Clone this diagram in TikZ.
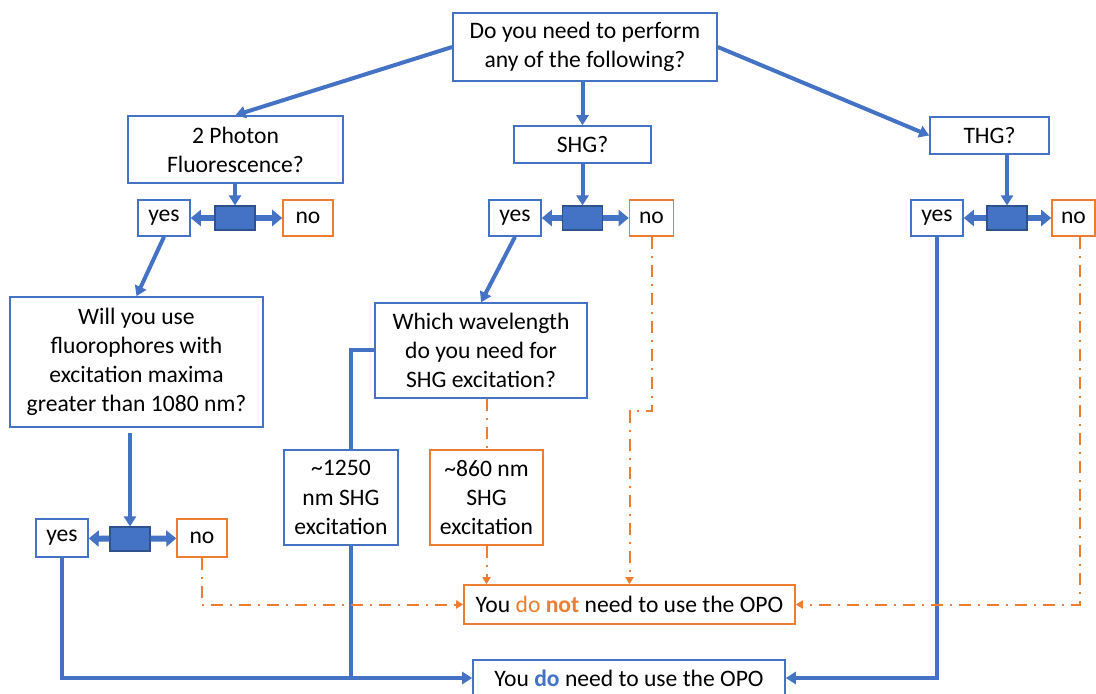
\documentclass[tikz,border=0pt]{standalone}
\usepackage{fontspec}
\setmainfont{Carlito}
\usepackage{tikz}
\usetikzlibrary{arrows.meta}
\usepackage{xcolor}
\definecolor{oblue}{HTML}{4472C4}
\definecolor{dblue}{HTML}{2F528F}
\definecolor{oorange}{HTML}{ED7D31}

\begin{document}
\begin{tikzpicture}[x=0.5pt,y=-0.5pt,font=\fontsize{11.8}{14.6}\selectfont]
        \tikzstyle{blue box}=[draw=oblue,line width=0.8pt,fill=white,inner sep=0,align=center]
        \tikzstyle{orange box}=[draw=oorange,line width=0.8pt,fill=white,inner sep=0,align=center]
        \tikzstyle{switch node}=[draw=dblue,fill=oblue,line width=0.6pt,minimum width=20pt,minimum height=12pt,inner sep=0]
        \tikzstyle{plain line}=[oblue,line width=2pt]
        \tikzstyle{blue line}=[plain line,-{Triangle[length=5pt,width=6pt]}]
        \tikzstyle{switch arrow}=[oblue,line width=3pt,-{Triangle[length=5pt,width=8pt]}]
        \tikzstyle{orange dash}=[oorange,line width=1pt,dash pattern=on 6pt off 3.5pt on 1pt off 3.5pt]
        \tikzstyle{orange line}=[orange dash,-{Triangle[length=3.5pt,width=4pt]}]

        \useasboundingbox (0,0) rectangle (1096,694);

        % questions
        \node(top)[blue box,minimum width=132pt,minimum height=34pt] at (585,47) {Do you need to perform\\any of the following?};
        \node(photon)[blue box,minimum width=107.5pt,minimum height=33.5pt] at (235.5,149.5) {2 Photon\\Fluorescence?};
        \node(shg)[blue box,minimum width=68.5pt,minimum height=18.5pt] at (582.5,144.5) {SHG?};
        \node(thg)[blue box,minimum width=59.5pt,minimum height=18.5pt] at (989.5,135.5) {THG?};
        \node(will)[blue box,minimum width=126.5pt,minimum height=65pt] at (136.5,362) {Will you use\\fluorophores with\\excitation maxima\\greater than 1080 nm?};
        \node(which)[blue box,minimum width=106pt,minimum height=47.5pt] at (481,350.5) {Which wavelength\\do you need for\\SHG excitation?};
        \node(n1250)[blue box,minimum width=57pt,minimum height=47.5pt] at (341,497.5) {\textasciitilde1250\\nm SHG\\excitation};
        \node(n860)[orange box,minimum width=56.5pt,minimum height=47.5pt] at (486.5,497.5) {\textasciitilde860 nm\\SHG\\excitation};

        % answers
        \node(notopo)[orange box,minimum width=165.5pt,minimum height=19.5pt] at (629.5,604.5) {You {\color{oorange}do \textbf{not}} need to use the OPO};
        \node(useopo)[blue box,minimum width=156pt,minimum height=18pt] at (629,678) {You \textcolor{oblue}{\textbf{do}} need to use the OPO};

        % yes / no switches
        \node(yes1)[blue box,minimum width=26pt,minimum height=18pt] at (164,218) {yes};
        \node(sw1)[switch node] at (235,218) {};
        \node(no1)[orange box,minimum width=25pt,minimum height=18pt] at (308,218) {no};
        \node(yes2)[blue box,minimum width=26pt,minimum height=18pt] at (515,218) {yes};
        \node(sw2)[switch node] at (582.5,218) {};
        \node(no2)[orange box,minimum width=22pt,minimum height=18pt] at (651.5,218) {no};
        \node(yes3)[blue box,minimum width=26pt,minimum height=18pt] at (937,218) {yes};
        \node(sw3)[switch node] at (1007,218) {};
        \node(no3)[orange box,minimum width=21.5pt,minimum height=18pt] at (1073.5,218) {no};
        \node(yes4)[blue box,minimum width=26pt,minimum height=19pt] at (62,538) {yes};
        \node(sw4)[switch node] at (130,539) {};
        \node(no4)[orange box,minimum width=25pt,minimum height=19pt] at (202,538) {no};

        \foreach \i in {1,2,3,4}{
            \draw[switch arrow] (sw\i) -- (yes\i);
            \draw[switch arrow] (sw\i) -- (no\i);
        }

        % blue connectors
        \draw[blue line] (top.west) -- (photon.north);
        \draw[blue line] (shg.north |- top.south) -- (shg.north);
        \draw[blue line] (top.east) -- (thg.west);
        \draw[blue line] (photon.south -| sw1.north) -- (sw1.north);
        \draw[blue line] (shg.south) -- (sw2.north);
        \draw[blue line] (sw3.north |- thg.south) -- (sw3.north);
        \draw[blue line] (yes1.south) -- (will.north);
        \draw[blue line] (yes2.south) -- (which.north);
        \draw[blue line] ([yshift=-2.5pt]will.south -| sw4.north) -- (sw4.north);
        \draw[plain line] (which.west) -| ([xshift=5pt]n1250.north);
        \draw[plain line] ([xshift=5pt]n1250.south) -- ([xshift=5pt]n1250.south |- useopo.west);
        \draw[blue line] (yes4.south) |- (useopo.west);
        \draw[blue line] (yes3.south) |- (useopo.east);

        % orange connectors
        \draw[orange dash] (n860.north |- which.south) -- (n860.north);
        \draw[orange line] (n860.south) -- (n860.south |- notopo.north);
        \draw[orange line] (no2.south) -- (no2.south |- 0,411) -| (notopo.north);
        \draw[orange line] (no4.south) |- (notopo.west);
        \draw[orange line] ([xshift=3pt]no3.south) |- (notopo.east);
    \end{tikzpicture}
\end{document}
